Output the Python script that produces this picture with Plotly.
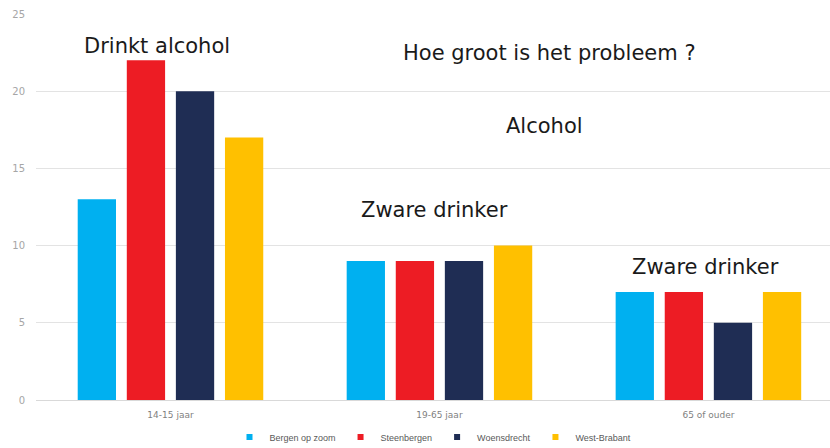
import plotly.graph_objects as go

# Age groups on the x axis
categories = ["14-15 jaar", "19-65 jaar", "65 of ouder"]

# Percentages per region
bergen_op_zoom = [13, 9, 7]
steenbergen = [22, 9, 7]
woensdrecht = [20, 9, 5]
west_brabant = [17, 10, 7]

series = [
    ("Bergen op zoom", bergen_op_zoom, "#00B0F0"),
    ("Steenbergen", steenbergen, "#ED1C24"),
    ("Woensdrecht", woensdrecht, "#1F2D54"),
    ("West-Brabant", west_brabant, "#FFC000"),
]

y_ticks = [0, 5, 10, 15, 20, 25]

fig = go.Figure()
for name, values, color in series:
    fig.add_trace(go.Bar(
        name=name,
        x=categories,
        y=values,
        marker=dict(color=color, line=dict(width=0)),
        showlegend=False,
        legendgroup=name,
    ))
    # small square swatch for the legend entry
    fig.add_trace(go.Scatter(
        name=name,
        x=[None],
        y=[None],
        mode="markers",
        marker=dict(symbol="square", size=6, color=color),
        legendgroup=name,
        showlegend=True,
    ))

text_font = dict(family="DejaVu Sans", size=21, color="#1a1a1a")

fig.add_annotation(text="Drinkt alcohol", x=-0.05, y=22.9, xref="x", yref="y",
                   showarrow=False, font=text_font)
fig.add_annotation(text="Hoe groot is het probleem ?", x=1.41, y=22.45, xref="x", yref="y",
                   showarrow=False, font=text_font)
fig.add_annotation(text="Alcohol", x=1.39, y=17.75, xref="x", yref="y",
                   showarrow=False, font=text_font)
fig.add_annotation(text="Zware drinker", x=0.98, y=12.3, xref="x", yref="y",
                   showarrow=False, font=text_font)
fig.add_annotation(text="Zware drinker", x=1.99, y=8.6, xref="x", yref="y",
                   showarrow=False, font=text_font)

fig.update_layout(
    width=830,
    height=448,
    margin=dict(l=36, r=0, t=14, b=48, autoexpand=False),
    paper_bgcolor="white",
    plot_bgcolor="white",
    barmode="group",
    bargap=0.27,
    bargroupgap=0.22,
    font=dict(family="Liberation Sans", size=9, color="#7f7f7f"),
    showlegend=True,
    legend=dict(
        orientation="h",
        x=0.5, xanchor="center",
        y=-37 / 386, yanchor="middle",
        font=dict(family="Liberation Sans", size=9, color="#595959"),
        itemwidth=30,
        itemsizing="trace",
        tracegroupgap=0,
    ),
    xaxis=dict(
        range=[-0.5, 2.452],
        showgrid=False,
        showline=True,
        linecolor="#d9d9d9",
        linewidth=1,
        ticks="",
        ticklabelstandoff=6,
        automargin=False,
        tickfont=dict(family="DejaVu Sans", size=9, color="#7f7f7f"),
        fixedrange=True,
    ),
    yaxis=dict(
        range=[0, 25],
        tickvals=y_ticks,
        showgrid=True,
        gridcolor="#e3e3e3",
        gridwidth=1,
        zeroline=False,
        ticks="outside",
        ticklen=0,
        tickcolor="white",
        ticklabelstandoff=8,
        automargin=False,
        tickfont=dict(family="DejaVu Sans", size=10, color="#a6a6a6"),
        fixedrange=True,
    ),
)

fig.write_html("out.html")
